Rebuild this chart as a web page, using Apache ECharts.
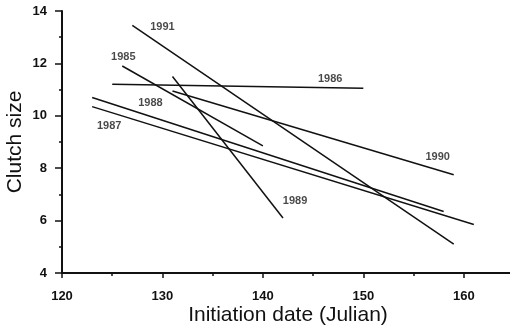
<!DOCTYPE html>
<html>
<head>
<meta charset="utf-8">
<script src="https://cdn.jsdelivr.net/npm/echarts@6/dist/echarts.min.js"></script>
<style>
  html, body { margin: 0; padding: 0; background: #fff; }
  #chart { width: 510px; height: 332px; }
</style>
</head>
<body>
<div id="chart"></div>
<script>
// regression lines per year: start / end points
var years = ['1985', '1986', '1987', '1988', '1989', '1990', '1991'];
var startX = [126, 125, 123, 123, 131, 131, 127];
var startY = [11.9, 11.2, 10.35, 10.7, 11.5, 10.95, 13.45];
var endX = [140, 150, 161, 158, 142, 159, 159];
var endY = [8.85, 11.05, 5.85, 6.35, 6.1, 7.75, 5.1];
// where the year text sits
var labelX = [126.1, 146.7, 124.7, 128.8, 143.2, 157.4, 130];
var labelY = [12.24, 11.4, 9.61, 10.49, 6.75, 8.43, 13.39];

var xTicks = [120, 165, 10];   // min, max, interval
var yTicks = [4, 14, 2];

var chart = echarts.init(document.getElementById('chart'));

var series = [];
years.forEach(function (yr, i) {
  series.push({
    name: yr,
    type: 'line',
    symbol: 'none',
    silent: true,
    lineStyle: { color: '#111', width: 1.5 },
    data: [[startX[i], startY[i]], [endX[i], endY[i]]]
  });
});
series.push({
  name: 'labels',
  type: 'scatter',
  symbolSize: 1,
  itemStyle: { color: 'rgba(0,0,0,0)' },
  label: {
    show: true,
    position: 'inside',
    formatter: function (p) { return p.value[2]; },
    color: '#1a1a1a',
    fontFamily: 'Liberation Sans',
    fontWeight: 'bold',
    fontSize: 11
  },
  data: years.map(function (yr, i) { return [labelX[i], labelY[i], yr]; })
});

var axisFont = { fontFamily: 'Liberation Sans', color: '#111' };

var option = {
  animation: false,
  grid: { left: 62, right: -4, top: 11, bottom: 59, containLabel: false, outerBoundsMode: 'none' },
  xAxis: {
    type: 'value',
    min: xTicks[0],
    max: xTicks[1],
    interval: xTicks[2],
    name: 'Initiation date (Julian)',
    nameLocation: 'middle',
    nameGap: 32,
    nameMoveOverlap: false,
    nameTextStyle: Object.assign({ fontSize: 21 }, axisFont),
    axisLine: { lineStyle: { color: '#111', width: 2 } },
    axisTick: { length: 5, lineStyle: { color: '#111', width: 1.5 } },
    minorTick: { show: true, splitNumber: 2, length: 3, lineStyle: { color: '#111', width: 1.5 } },
    axisLabel: Object.assign({ fontSize: 13, fontWeight: 'bold', margin: 17, showMaxLabel: false }, axisFont),
    splitLine: { show: false }
  },
  yAxis: {
    type: 'value',
    min: yTicks[0],
    max: yTicks[1],
    interval: yTicks[2],
    name: 'Clutch size',
    nameLocation: 'middle',
    nameGap: 36,
    nameMoveOverlap: false,
    nameTextStyle: Object.assign({ fontSize: 21 }, axisFont),
    axisLine: { show: true, lineStyle: { color: '#111', width: 2 } },
    axisTick: { show: true, length: 7, lineStyle: { color: '#111', width: 1.5 } },
    minorTick: { show: true, splitNumber: 2, length: 3, lineStyle: { color: '#111', width: 1.5 } },
    axisLabel: Object.assign({ fontSize: 13, fontWeight: 'bold', margin: 15 }, axisFont),
    splitLine: { show: false }
  },
  series: series
};

chart.setOption(option);
</script>
</body>
</html>
